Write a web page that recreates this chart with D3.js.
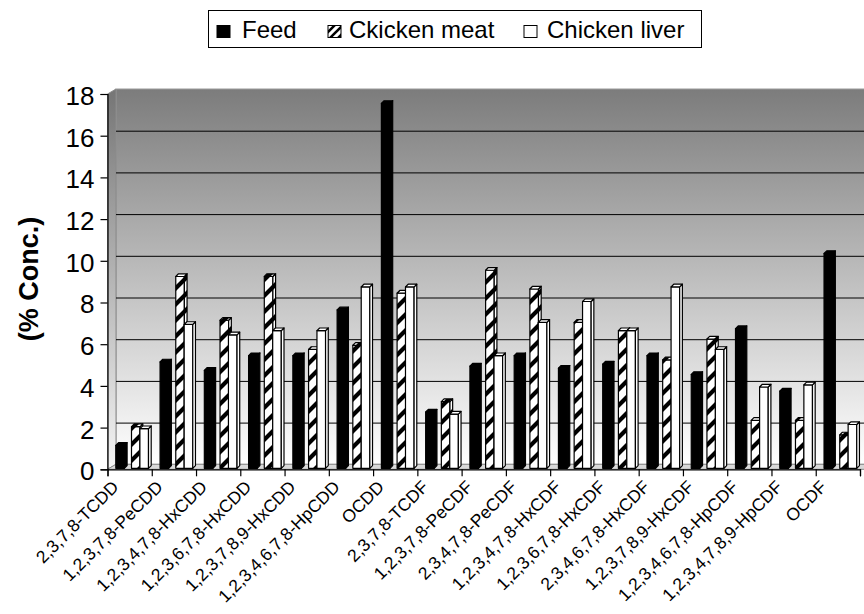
<!DOCTYPE html>
<html>
<head>
<meta charset="utf-8">
<script src="https://cdn.jsdelivr.net/npm/d3@7/dist/d3.min.js"></script>
<style>
  html, body { margin: 0; padding: 0; background: #fff; }
  svg { display: block; font-family: "Liberation Sans", Arial, Helvetica, sans-serif; }
</style>
</head>
<body>
<svg id="chart" width="864" height="614"></svg>
<script>
// Congener profile: share of each PCDD/F congener (% of total concentration)
const categories = [
  "2,3,7,8-TCDD", "1,2,3,7,8-PeCDD", "1,2,3,4,7,8-HxCDD", "1,2,3,6,7,8-HxCDD",
  "1,2,3,7,8,9-HxCDD", "1,2,3,4,6,7,8-HpCDD", "OCDD", "2,3,7,8-TCDF",
  "1,2,3,7,8-PeCDF", "2,3,4,7,8-PeCDF", "1,2,3,4,7,8-HxCDF", "1,2,3,6,7,8-HxCDF",
  "2,3,4,6,7,8-HxCDF", "1,2,3,7,8,9-HxCDF", "1,2,3,4,6,7,8-HpCDF", "1,2,3,4,7,8,9-HpCDF",
  "OCDF"
];
const seriesNames = ["Feed", "Ckicken meat", "Chicken liver"];
const feed  = [1.1, 5.1, 4.7, 5.4, 5.4, 7.6, 17.5, 2.7, 4.9, 5.4, 4.8, 5.0, 5.4, 4.5, 6.7, 3.7, 10.3];
const meat  = [2.0, 9.2, 7.1, 9.2, 5.7, 5.9, 8.4, 3.2, 9.5, 8.6, 7.0, 6.6, 5.2, 6.2, 2.3, 2.3, 1.6];
const liver = [1.9, 6.9, 6.4, 6.6, 6.6, 8.7, 8.7, 2.6, 5.4, 7.0, 8.0, 6.6, 8.7, 5.7, 3.9, 4.0, 2.1];
const yTicks = [0, 2, 4, 6, 8, 10, 12, 14, 16, 18];
const yTitle = "(% Conc.)";

const svg = d3.select("#chart");
const defs = svg.append("defs");

// Plot frame and the 3D depth of the walls
const left = 107.5, right = 860;
const depthX = 8.5, depthY = -5;

const x = d3.scaleBand().domain(categories).range([left, right]).padding(0);
const xIdx = d3.scaleLinear().domain([0, categories.length]).range([left, right]);
const y = d3.scaleLinear().domain([0, 18]).range([469.3, 94]);

// Bar geometry inside one category band
const barW = 8.6, barD = 2.7, barLift = -1;
const offset = d3.scaleOrdinal().domain(seriesNames).range([8.3, 24, 32.4]);

// Wall shading
const grad = defs.append("linearGradient")
  .attr("id", "wallGrad").attr("gradientUnits", "userSpaceOnUse")
  .attr("x1", 0).attr("x2", 0).attr("y1", y(18) + depthY).attr("y2", y(0) + depthY);
grad.append("stop").attr("offset", 0).attr("stop-color", "#7c7c7c");
grad.append("stop").attr("offset", 1).attr("stop-color", "#ffffff");

const sideGrad = defs.append("linearGradient")
  .attr("id", "sideGrad").attr("gradientUnits", "userSpaceOnUse")
  .attr("x1", 0).attr("x2", 0).attr("y1", y(18)).attr("y2", y(0));
sideGrad.append("stop").attr("offset", 0).attr("stop-color", "#777");
sideGrad.append("stop").attr("offset", 1).attr("stop-color", "#f4f4f4");

// Upward diagonal hatch: small tile for the legend key, wide tile for bars
const hatch = defs.append("pattern")
  .attr("id", "hatch").attr("patternUnits", "userSpaceOnUse")
  .attr("width", 8).attr("height", 8);
hatch.append("rect").attr("width", 8).attr("height", 8).attr("fill", "#fff");
hatch.append("path").attr("d", "M-2,2 L2,-2 M0,8 L8,0 M6,10 L10,6")
  .attr("stroke", "#000").attr("stroke-width", 2.6);

const bigHatch = defs.append("pattern")
  .attr("id", "hatchBar").attr("patternUnits", "userSpaceOnUse")
  .attr("width", 16).attr("height", 16);
bigHatch.append("rect").attr("width", 16).attr("height", 16).attr("fill", "#fff");
bigHatch.append("path").attr("d", "M-4,4 L4,-4 M0,16 L16,0 M12,20 L20,12")
  .attr("stroke", "#000").attr("stroke-width", 4.2);

const fills = { "Feed": "#000", "Ckicken meat": "url(#hatchBar)", "Chicken liver": "#fff" };

// Back wall
svg.append("rect")
  .attr("x", left + depthX).attr("y", y(18) + depthY)
  .attr("width", right - left + 10).attr("height", y(0) - y(18))
  .attr("fill", "url(#wallGrad)").attr("stroke", "#9a9a9a").attr("stroke-width", 1);

// Left side wall
svg.append("path")
  .attr("d", `M${left},${y(0)} L${left},${y(18)} L${left + depthX},${y(18) + depthY} L${left + depthX},${y(0) + depthY} Z`)
  .attr("fill", "url(#sideGrad)").attr("stroke", "#8a8a8a").attr("stroke-width", 1);

// Floor
svg.append("path")
  .attr("d", `M${left},${y(0)} L${right + 12},${y(0)} L${right + 12 + depthX},${y(0) + depthY} L${left + depthX},${y(0) + depthY} Z`)
  .attr("fill", "#d9d9d9").attr("stroke", "#8a8a8a").attr("stroke-width", 1);

// Gridlines on the back wall
svg.append("g").selectAll("line")
  .data(yTicks.filter(t => t > 0 && t < 18))
  .join("line")
  .attr("x1", left + depthX).attr("x2", right + 20)
  .attr("y1", d => y(d) + depthY + 0.5).attr("y2", d => y(d) + depthY + 0.5)
  .attr("stroke", "#000").attr("stroke-width", 1);

// Bars drawn as prisms: front face, right side, top
const barsData = [];
categories.forEach((c, i) => {
  [[seriesNames[0], feed[i]], [seriesNames[1], meat[i]], [seriesNames[2], liver[i]]]
    .forEach(([s, v]) => barsData.push({ c, s, v }));
});

const bars = svg.append("g").selectAll("g").data(barsData).join("g");
bars.each(function (d) {
  const g = d3.select(this);
  const x0 = x(d.c) + offset(d.s);
  const yb = y(0) + barLift;
  const yt = y(d.v) + barLift;
  const fill = fills[d.s];
  const st = { stroke: "#000", "stroke-width": 1.2, "stroke-linejoin": "round" };
  const front = g.append("rect").attr("x", x0).attr("y", yt).attr("width", barW).attr("height", yb - yt).attr("fill", fill);
  const side = g.append("path")
    .attr("d", `M${x0 + barW},${yb} L${x0 + barW},${yt} L${x0 + barW + barD},${yt - barD} L${x0 + barW + barD},${yb - barD} Z`)
    .attr("fill", fill);
  const top = g.append("path")
    .attr("d", `M${x0},${yt} L${x0 + barW},${yt} L${x0 + barW + barD},${yt - barD} L${x0 + barD},${yt - barD} Z`)
    .attr("fill", fill);
  [front, side, top].forEach(s => Object.entries(st).forEach(([k, val]) => s.attr(k, val)));
});

// Value axis
const yAxis = svg.append("g")
  .attr("transform", `translate(${left},0)`)
  .call(d3.axisLeft(y).tickValues(yTicks).tickSize(7).tickPadding(6).tickFormat(d3.format("d")));
yAxis.select(".domain").attr("stroke", "#000").attr("stroke-width", 1.2);
yAxis.selectAll(".tick line").attr("stroke", "#000").attr("stroke-width", 1.2);
yAxis.selectAll(".tick text")
  .attr("font-size", 26).attr("fill", "#000")
  .attr("font-family", "'Liberation Sans', Arial, sans-serif")
  .attr("dy", "0.4em");

// Category axis (ticks at band boundaries)
const xAxis = svg.append("g")
  .attr("transform", `translate(0,${y(0)})`)
  .call(d3.axisBottom(xIdx).tickValues(d3.range(categories.length + 1)).tickSize(7).tickFormat(""));
xAxis.select(".domain").attr("stroke", "#000").attr("stroke-width", 1.2);
xAxis.selectAll(".tick line").attr("stroke", "#000").attr("stroke-width", 1.2);

svg.append("g").selectAll("text")
  .data(categories)
  .join("text")
  .attr("transform", d => `translate(${x(d) + x.bandwidth() / 2 - 10},488) rotate(-45)`)
  .attr("text-anchor", "end")
  .attr("font-size", 17.5)
  .attr("fill", "#000")
  .text(d => d);

// Axis title
svg.append("text")
  .attr("transform", "translate(38,279) rotate(-90)")
  .attr("text-anchor", "middle")
  .attr("font-size", 27)
  .attr("font-weight", "bold")
  .attr("fill", "#000")
  .text(yTitle);

// Legend
const legend = svg.append("g");
legend.append("rect")
  .attr("x", 208.5).attr("y", 10.5).attr("width", 493).attr("height", 37)
  .attr("fill", "#fff").attr("stroke", "#000").attr("stroke-width", 1);

const legendItems = [
  { s: seriesNames[0], sx: 217, tx: 242, fill: "#000" },
  { s: seriesNames[1], sx: 328, tx: 349, fill: "url(#hatch)" },
  { s: seriesNames[2], sx: 524, tx: 547, fill: "#fff" }
];
const li = legend.selectAll("g.item").data(legendItems).join("g").attr("class", "item");
li.append("rect")
  .attr("x", d => d.sx).attr("y", 25.5).attr("width", 13).attr("height", 12)
  .attr("fill", d => d.fill).attr("stroke", "#000").attr("stroke-width", 1);
li.append("text")
  .attr("x", d => d.tx).attr("y", 38)
  .attr("font-size", 24).attr("fill", "#000")
  .text(d => d.s);
</script>
</body>
</html>
